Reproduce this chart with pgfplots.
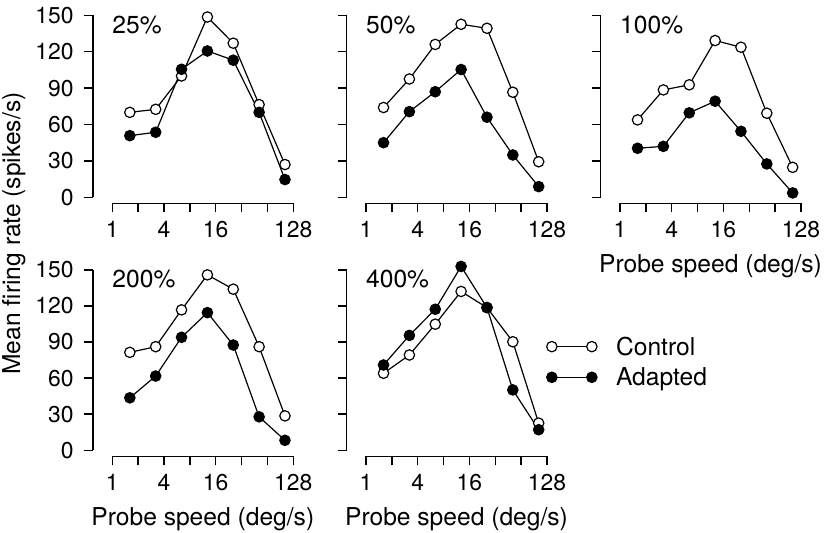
\documentclass[border=0pt]{standalone}
\usepackage{pgfplots}
\pgfplotsset{compat=1.18}
\usepackage{fontspec}
\setmainfont{TeX Gyre Heros}
\newcommand{\tickf}{\fontsize{23}{23}\selectfont}
\newcommand{\bigf}{\fontsize{24.7}{24.7}\selectfont}
% x values are log2 of probe speed (1.6, 3.2, 6.4, 12.8, 25.6, 51.2, 102.4 deg/s)
\pgfplotsset{
  rstyle/.style={
    scale only axis, width=181bp,
    xmin=0, xmax=7, ymin=0, ymax=150,
    anchor=south west,
    axis lines=left, axis line style={-, line width=1.5bp, black},
    axis x line shift=6bp, axis y line shift=19.5bp,
    tick align=outside, major tick length=9bp,
    tick style={line width=1.5bp, black},
    xtick={0,1,2,3,4,5,6,7},
    xticklabels={1,,4,,16,,,128},
    ytick={0,30,60,90,120,150},
    yticklabels={0,30,60,90,120,150},
    ticklabel style={font=\tickf, inner sep=0pt},
    xticklabel style={yshift=-9bp},
    yticklabel style={xshift=-10bp},
    clip=false,
  },
  nolab/.style={yticklabels={}},
  ctrl/.style={black, line width=1.2bp, mark=*, mark size=5.2bp,
    mark options={fill=white, solid, line width=1.2bp}},
  adpt/.style={black, line width=1.2bp, mark=*, mark size=5.2bp,
    mark options={fill=black, solid, line width=1.2bp}},
}
\tikzset{
  panel/.style={anchor=base west, inner sep=0pt, yshift=-18bp, font=\bigf},
  xlab/.style={anchor=base, inner sep=0pt, yshift=-75.5bp, font=\bigf},
}
\begin{document}
\begin{tikzpicture}
\useasboundingbox (0,0) rectangle (827bp,533bp);
% 25%
\begin{axis}[rstyle, at={(112.3bp,335.7bp)}, height=182bp]
\addplot[ctrl] coordinates {(0.678,70) (1.678,72.5) (2.678,100) (3.678,148.6) (4.678,127) (5.678,76.4) (6.678,27)};
\addplot[adpt] coordinates {(0.678,50.8) (1.678,53.6) (2.678,105.5) (3.678,120.6) (4.678,113) (5.678,70) (6.678,14.6)};
\node[panel] at (rel axis cs:0,1) {25\%};
\end{axis}
% 50%
\begin{axis}[rstyle, nolab, at={(366bp,335.7bp)}, height=182bp]
\addplot[ctrl] coordinates {(0.678,74) (1.678,97.5) (2.678,126) (3.678,142.6) (4.678,139.3) (5.678,86.6) (6.678,29.3)};
\addplot[adpt] coordinates {(0.678,45) (1.678,70.6) (2.678,87) (3.678,105.3) (4.678,66) (5.678,34.9) (6.678,8.8)};
\node[panel] at (rel axis cs:0,1) {50\%};
\end{axis}
% 100%
\begin{axis}[rstyle, nolab, at={(620bp,335.7bp)}, height=182bp]
\addplot[ctrl] coordinates {(0.678,63.8) (1.678,88.5) (2.678,92.7) (3.678,129.2) (4.678,123.7) (5.678,69.3) (6.678,24.7)};
\addplot[adpt] coordinates {(0.678,40.4) (1.678,42) (2.678,69.6) (3.678,79.2) (4.678,54.4) (5.678,27.5) (6.678,3.6)};
\node[panel] at (rel axis cs:0,1) {100\%};
\node[xlab] at (rel axis cs:0.5,0) {Probe speed (deg/s)};
\end{axis}
% 200%
\begin{axis}[rstyle, at={(112.3bp,82.7bp)}, height=180.5bp]
\addplot[ctrl] coordinates {(0.678,81.4) (1.678,86.1) (2.678,116.7) (3.678,145.8) (4.678,133.9) (5.678,86.1) (6.678,28.6)};
\addplot[adpt] coordinates {(0.678,43.6) (1.678,61.7) (2.678,93.9) (3.678,114.4) (4.678,87.5) (5.678,27.8) (6.678,8.3)};
\node[panel] at (rel axis cs:0,1) {200\%};
\node[xlab] at (rel axis cs:0.5,0) {Probe speed (deg/s)};
\end{axis}
% 400%
\begin{axis}[rstyle, nolab, at={(366bp,82.7bp)}, height=180.5bp,
  legend image code/.code={\draw[#1] plot coordinates {(0bp,0bp) (40bp,0bp)};},
  legend cell align=left,
  legend style={at={(axis description cs:0.997,0.49)}, anchor=west, draw=none, fill=none,
    font=\bigf, row sep=11bp, column sep=19bp, inner sep=0pt, nodes={inner sep=0pt}}]
\addplot[ctrl] coordinates {(0.678,64) (1.678,79.2) (2.678,104.8) (3.678,132) (4.678,118.6) (5.678,90.2) (6.678,22.6)};
\addlegendentry{Control}
\addplot[adpt] coordinates {(0.678,70.9) (1.678,95.5) (2.678,117.2) (3.678,152.8) (4.678,118.6) (5.678,50.2) (6.678,17.1)};
\addlegendentry{Adapted}
\node[panel] at (rel axis cs:0,1) {400\%};
\node[xlab] at (rel axis cs:0.5,0) {Probe speed (deg/s)};
\end{axis}
\node[rotate=90, anchor=base, inner sep=0pt, font=\bigf] at (20bp,299.5bp) {Mean firing rate (spikes/s)};
\end{tikzpicture}
\end{document}
